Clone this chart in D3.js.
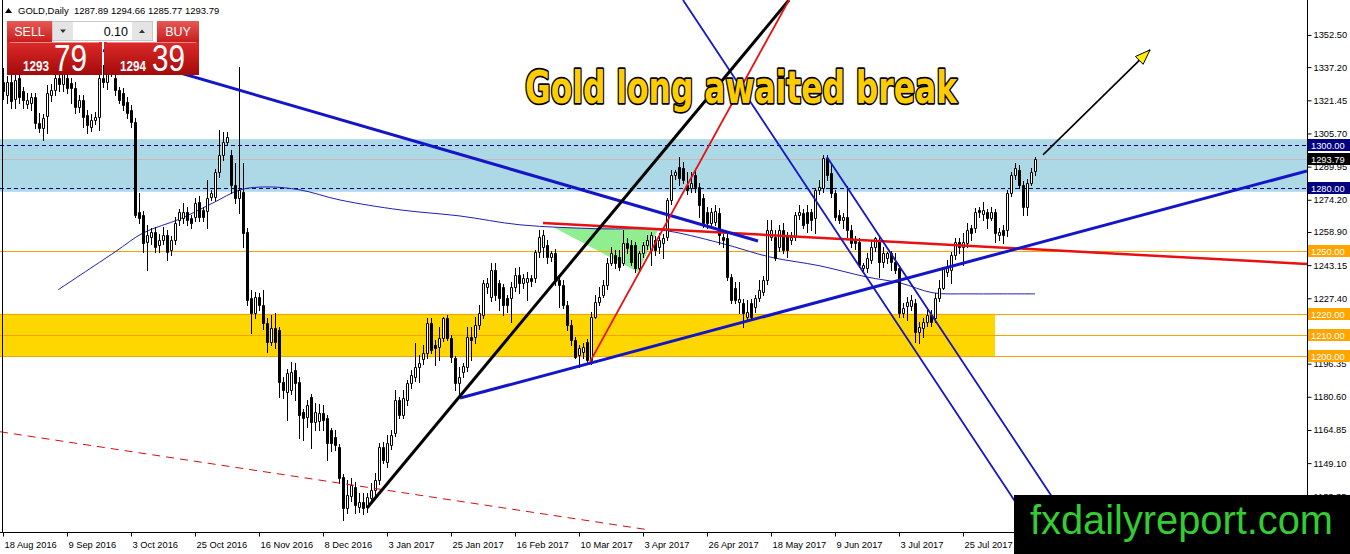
<!DOCTYPE html>
<html>
<head>
<meta charset="utf-8">
<script src="https://cdn.jsdelivr.net/npm/d3@7"></script>
<style>
  body { margin: 0; background: #fff; }
  svg { display: block; }
</style>
</head>
<body>
<div id="chart"></div>
<script>
// GOLD daily, one bar per trading day: [open, high, low, close]
var candles = [
  [1330,1337,1322,1326],[1324,1333,1320,1330],[1330,1336,1318,1321],[1322,1334,1318,1331],
  [1332,1336,1320,1323],[1326,1328,1318,1321.6],[1319.5,1325,1317.9,1321.5],[1320,1325,1317,1323],
  [1323,1325,1308.3,1310.5],[1310.5,1315.5,1306.4,1308.3],[1308.3,1315,1302.6,1313],[1314,1328.7,1306,1325],
  [1324,1329,1321,1326.4],[1326.4,1336,1324,1332],[1332,1338,1326,1329],[1329,1340,1326,1336],
  [1332,1338,1325,1327.5],[1329.7,1332,1320,1327.5],[1327.5,1330,1315.5,1318.3],[1318.3,1324,1316,1321.6],
  [1321.6,1324,1308.8,1313.5],[1314.5,1317,1306,1309.7],[1309,1315,1307,1312],[1312,1316,1310,1313.5],
  [1313.5,1336,1307.4,1332],[1332,1338,1328,1330],[1330,1342,1327,1337],[1337,1343,1333,1336],
  [1332,1336,1324,1326.4],[1326.4,1328,1320,1321.6],[1325,1327.5,1317,1319.2],[1320.7,1323,1313,1315.5],
  [1317,1319,1309,1311],[1311,1313,1266,1267],[1268.4,1277.5,1263.2,1265.6],[1267,1269,1249.4,1253.7],
  [1254.2,1262.3,1240.9,1257.5],[1256.6,1261,1253,1258.9],[1258.9,1261.3,1249.4,1251.8],[1252.8,1258,1249.4,1255.1],
  [1255.1,1261.3,1253,1257.5],[1257.5,1260,1245.6,1249.4],[1250.4,1257,1248,1255.1],[1255.1,1266,1253,1263.2],
  [1264.6,1270,1262,1268.4],[1265.6,1272.7,1263,1268.4],[1268.4,1271,1262,1264.6],[1265.6,1267,1260.8,1263.2],
  [1266.1,1275,1264,1272.7],[1273.2,1276,1264,1266.1],[1269.4,1271,1264,1266.1],[1268.9,1283.6,1260.8,1275.1],
  [1275.6,1279,1274,1277.5],[1275.6,1289,1274,1287.4],[1287.4,1307.4,1285,1295.5],[1295.5,1306.4,1293,1301.7],
  [1301.7,1306.4,1300,1304],[1295.5,1298,1277.5,1281.3],[1281.3,1291.7,1272.7,1275.1],[1275.1,1337.3,1267.9,1278.9],
  [1278,1291.7,1251.8,1258.4],[1258.9,1261,1224.3,1226.6],[1227.6,1231.4,1211,1220.5],[1220.5,1230.4,1218,1228],
  [1228,1230,1222,1224.3],[1224.3,1231.4,1213,1215.7],[1215.7,1218,1202,1206.7],[1206.7,1219.5,1205.3,1213.3],
  [1213.3,1220.5,1204,1206.7],[1212.4,1213.8,1180.5,1187.7],[1187.7,1190,1180,1183.9],[1183,1194,1169.6,1192],
  [1183.9,1197.2,1182,1192.4],[1193.4,1196.7,1179.1,1187.2],[1187.7,1190,1161.1,1172],[1173.4,1175,1160.1,1170.6],
  [1171.1,1179,1166.3,1176.8],[1180.5,1182,1156.3,1168.7],[1168.7,1177.7,1164.9,1173.4],[1169.2,1177,1165,1172.9],
  [1172.9,1176.8,1164.9,1169.6],[1170.6,1172,1150.6,1158.7],[1164.9,1166,1155,1158.7],[1161.5,1164.9,1155.4,1157.8],
  [1156.8,1158,1139.7,1142.1],[1142.6,1144,1122.1,1127.9],[1127.9,1141.1,1125.5,1134],[1133.5,1142,1131,1138.8],
  [1137.8,1140,1125.5,1129.3],[1128.4,1135,1126,1130.7],[1130.7,1135,1125,1127.9],[1128.4,1135,1126,1133],
  [1132.6,1139.7,1130,1136.4],[1136.4,1144.5,1134,1141.1],[1141.1,1158.7,1139,1156.8],[1156.8,1159,1149.2,1150.6],
  [1149.7,1162.5,1147.3,1158.7],[1157.8,1164.9,1156,1162.5],[1163.5,1183.9,1162,1179.1],[1179.1,1180.5,1170.6,1172],
  [1172,1183.9,1170.6,1180],[1179.1,1188.6,1176.8,1187.2],[1187.2,1193.4,1185,1191],[1190,1206.2,1188,1194.8],
  [1194.8,1200.5,1187.7,1196.7],[1198.6,1205.3,1196,1201.4],[1201.4,1218,1199,1215.7],[1215.7,1218,1201.4,1202.9],
  [1205.3,1207.6,1195.8,1203.8],[1204.3,1213.8,1198.1,1208.6],[1208.6,1218.5,1207,1218],[1218,1219.5,1207.6,1208.6],
  [1208.6,1210,1197.2,1199.5],[1199,1200,1183.9,1187.2],[1187.2,1194.8,1181.5,1190],[1192.4,1196.7,1190,1195.3],
  [1194.8,1213.8,1193,1209],[1209,1213.8,1198.1,1207.6],[1209,1218.5,1206.2,1214.8],[1214.8,1224.3,1213,1220.5],
  [1219.5,1236.1,1218,1234.7],[1232.8,1237,1230,1234.7],[1228,1244.2,1226,1240.9],[1240.9,1244.2,1226.6,1229],
  [1234.7,1236,1221.9,1227.6],[1232.8,1234,1219.5,1224.3],[1227.6,1229,1220.9,1224.3],[1227.6,1235,1216.2,1232.8],
  [1232.8,1241.8,1231,1238.5],[1238.5,1242.3,1229.9,1234.7],[1234.7,1239,1232.3,1237],[1235.2,1240,1226.6,1237],
  [1237,1238.5,1233,1235.7],[1237,1250.4,1235,1249.4],[1249.4,1259.9,1247,1256.6],[1251.8,1259.9,1247,1257.5],
  [1252.8,1255,1244,1247],[1247,1249.9,1245,1248.9],[1248.9,1251,1233.8,1236.1],[1236.1,1238,1223.3,1233.8],
  [1233.8,1236,1222.8,1224.3],[1224.3,1226,1212.4,1214.8],[1214.8,1217,1205.3,1207.6],[1207.6,1209,1199,1199.5],
  [1200.5,1205.3,1194.8,1203.8],[1201.9,1206,1199,1204.3],[1206.7,1208,1197.2,1198.1],[1198.1,1220.9,1196,1218.5],
  [1218.5,1229,1218,1225.7],[1225.7,1232.8,1224,1228],[1229,1236.1,1228,1233.8],[1233.8,1246.6,1232,1244.2],
  [1244.2,1251.8,1243,1248.9],[1248,1250.4,1241.8,1244.2],[1247,1250.4,1240.9,1242.3],[1244.2,1259.9,1243,1253.7],
  [1253.7,1256,1249,1251.3],[1252.8,1255,1243,1244.7],[1252.8,1254,1240,1241.8],[1241.8,1250,1240,1248.9],
  [1248.9,1254,1247,1252.8],[1252.8,1257.5,1251,1255.1],[1250.4,1259,1243.3,1257.5],[1255.1,1257,1248,1250.4],
  [1251.8,1258.4,1248.9,1255.1],[1253.7,1258,1246.6,1256.1],[1256.6,1275.1,1255,1274.1],[1274.1,1288.4,1272,1286],
  [1286,1288.4,1284,1287.4],[1289.8,1294.6,1281.3,1284.6],[1289.3,1292.2,1282,1283.6],[1281.3,1287.4,1277,1278.9],
  [1279.9,1287.4,1277.9,1282.2],[1286,1288,1278,1280.3],[1280.3,1282,1266,1271.8],[1275.1,1277,1261.3,1263.2],
  [1268.4,1270.8,1261,1263.2],[1263.2,1270.5,1261,1268.4],[1263.7,1271.8,1262,1268.9],[1268,1270.3,1253.3,1257.5],
  [1256.6,1258,1251.8,1255.1],[1256.1,1258,1236.1,1237.5],[1237.5,1239,1225.2,1226.6],[1232.3,1235.2,1225.2,1226.6],
  [1225.7,1235.2,1220.5,1227.1],[1225.2,1227,1213.8,1220.5],[1218.5,1226.6,1217.1,1220.9],[1225.2,1227,1217.1,1218.5],
  [1223.3,1229,1221,1227.6],[1227.6,1236.1,1226,1231.4],[1230.4,1238,1229,1236.1],[1236.1,1264.6,1234,1259.9],
  [1256.6,1264.6,1255,1259.9],[1256.6,1259.9,1245.6,1246.6],[1251.8,1262.3,1250,1259.9],[1259.9,1263.2,1249,1250.4],
  [1257.5,1259,1247,1250.4],[1255.1,1259,1253,1256.6],[1256.6,1268.4,1255,1267],[1267,1271.8,1265,1268.4],
  [1268,1270,1260.8,1262.3],[1268.4,1271.8,1258.9,1263.2],[1268.4,1270,1259.9,1264.6],[1265.6,1279.8,1258.4,1278.9],
  [1278.9,1283.6,1277,1280.3],[1280,1295.5,1278,1294.1],[1294.1,1295.5,1283.6,1286],[1287,1290.8,1275.6,1277.5],
  [1277.5,1279,1264.6,1266.1],[1267,1269.4,1263.2,1264.6],[1264.6,1268,1260.8,1266.1],[1266.1,1280.8,1256.6,1259.9],
  [1259.9,1262,1251.8,1253.7],[1255.1,1257,1251,1253.7],[1254.2,1256,1242.3,1243.3],[1241.8,1244.2,1239.9,1243.3],
  [1241.8,1248.9,1240,1246.6],[1245.6,1255.1,1244,1251.8],[1251.8,1256.6,1250,1256.1],[1255.1,1257,1237.5,1244.7],
  [1244.7,1251.8,1242.3,1248.9],[1246.6,1249.4,1244,1248.9],[1248.9,1250,1240.9,1244.7],[1244.7,1248.9,1239.4,1240.9],
  [1241.8,1243,1218.5,1220.5],[1220.5,1225,1218.5,1222.9],[1223.8,1228,1217.1,1225.7],[1223.8,1229,1222,1226.6],
  [1225.2,1227,1206.7,1211.4],[1211.4,1216,1206.2,1213.8],[1213.3,1218,1209,1216.2],[1216.2,1222,1214,1219.5],
  [1219.5,1222,1214,1216.2],[1218,1229.9,1216,1227.6],[1227.6,1236.1,1226,1232.3],[1232.3,1242.3,1231.9,1241.3],
  [1239.9,1245.6,1238,1242.3],[1240.9,1249.4,1234.7,1248],[1248,1256.1,1246,1254.2],[1254.2,1256,1249,1251.8],
  [1251.8,1258.4,1243.3,1254.2],[1253.7,1263.2,1252,1259.9],[1260.8,1262,1255.1,1258.4],[1260.8,1270.3,1259,1268.4],
  [1269.4,1271,1266,1268.4],[1267.5,1273.2,1264.6,1269.4],[1268.4,1270,1260.8,1265.6],[1265.6,1270.8,1264.6,1268.4],
  [1268.4,1270,1254.2,1258.4],[1257.5,1261,1255,1258.9],[1259.9,1262,1253.7,1257.5],[1259.9,1278.9,1257,1277.5],
  [1277.5,1287.4,1276,1286],[1286,1291.7,1284,1289.3],[1288.4,1290.8,1279.8,1281.3],[1281.3,1283,1267,1270.8],
  [1270.8,1284,1267,1282.2],[1282.2,1289.3,1281,1287.4],[1287.89,1294.66,1285.77,1293.79]
];

// bottom axis: [bar index, label]
var dateLabels = [
  [0,"18 Aug 2016"],[16,"9 Sep 2016"],[32,"3 Oct 2016"],[48,"25 Oct 2016"],
  [64,"16 Nov 2016"],[80,"8 Dec 2016"],[96,"3 Jan 2017"],[112,"25 Jan 2017"],
  [128,"16 Feb 2017"],[144,"10 Mar 2017"],[160,"3 Apr 2017"],[176,"26 Apr 2017"],
  [192,"18 May 2017"],[208,"9 Jun 2017"],[224,"3 Jul 2017"],[240,"25 Jul 2017"]
];

var priceTicks = [1352.50,1337.20,1321.45,1305.70,1289.95,1274.20,1258.90,1243.15,
                  1227.40,1211.65,1196.35,1180.60,1164.85,1149.10,1133.35];

// moving average: [bar index, price]
var maPoints = [
  [13.75,1231.4],[28,1249.4],[35,1258.4],[44.25,1265.1],[52.5,1272.7],[59.25,1278.9],
  [66,1280.3],[74.25,1278.9],[84.25,1274.1],[99.25,1269.4],[114.25,1266.5],[129.25,1262.3],
  [149.25,1260.4],[164.25,1259.9],[179.25,1253.7],[191.75,1247.0],[204.25,1242.8],[216,1237.5],
  [224.25,1234.7],[232.5,1230.0],[241,1229.5],[249.25,1229.5],[258,1229.5]
];

var blueZone = [1278, 1303];
var goldZone = [1200, 1220];
var goldZoneEnd = 248;
var navyLevels = [1300, 1280];
var orangeLevels = [1250, 1220, 1210, 1200];
var bidPrice = 1293.79;
var header = "GOLD,Daily  1287.89 1294.66 1285.77 1293.79";

// drawn objects, end points as [bar index, price]
var blueDownLine = [[25,1345.1],[188.75,1254.6]];
var blackUpLine  = [[91,1127.8],[196.5,1369.1]];
var redUpLine    = [[146.75,1197.2],[196.5,1369.1]];
var blueUpLine   = [[114.25,1180],[326,1287.9]];
var redFlatLine  = [[135,1263.2],[326,1243.7]];
var channelA     = [[170,1369.1],[258.25,1115.9]];
var channelB     = [[206,1294.5],[268.25,1115.9]];
var redDashLine  = [[-0.75,1164],[161.75,1117.3]];
var arrowLine    = [[260,1295.5],[286.75,1345.4]];
var greenTriangle = [[137.5,1261.3],[163.75,1259.9],[158.75,1239.9]];

var width = 1350, height = 554,
    plotRight = 1307, plotBottom = 532,
    axisFont = "'Liberation Sans', Arial, sans-serif";

var x = d3.scaleLinear().domain([-0.75, 326]).range([0, plotRight]);
var y = d3.scaleLinear().domain([1115.9, 1369.1]).range([533, 0]);

var svg = d3.select("#chart").append("svg")
    .attr("width", width).attr("height", height);
var defs = svg.append("defs");

defs.append("clipPath").attr("id", "plot")
  .append("rect").attr("x", 0).attr("y", 0).attr("width", plotRight).attr("height", plotBottom);

var plot = svg.append("g").attr("clip-path", "url(#plot)");

function px(p) { return [x(p[0]), y(p[1])]; }

// zones
plot.append("rect")
    .attr("x", 0).attr("width", plotRight)
    .attr("y", y(blueZone[1])).attr("height", y(blueZone[0]) - y(blueZone[1]))
    .attr("fill", "#add8e6");

plot.append("rect")
    .attr("x", 0).attr("width", x(goldZoneEnd))
    .attr("y", y(goldZone[1])).attr("height", y(goldZone[0]) - y(goldZone[1]))
    .attr("fill", "#ffd700");

plot.append("path")
    .attr("d", "M" + greenTriangle.map(px).join("L") + "Z")
    .attr("fill", "#90ee90");

// horizontal levels
plot.selectAll(".orange").data(orangeLevels).enter().append("line")
    .attr("x1", 0).attr("x2", plotRight)
    .attr("y1", function(d) { return Math.round(y(d)) + 0.5; })
    .attr("y2", function(d) { return Math.round(y(d)) + 0.5; })
    .attr("stroke", "#f5a300").attr("stroke-width", 1);

plot.selectAll(".navy").data(navyLevels).enter().append("line")
    .attr("x1", 0).attr("x2", plotRight)
    .attr("y1", function(d) { return Math.round(y(d)) + 0.5; })
    .attr("y2", function(d) { return Math.round(y(d)) + 0.5; })
    .attr("stroke", "#000080").attr("stroke-dasharray", "4,3");

plot.append("line")
    .attr("x1", 0).attr("x2", plotRight)
    .attr("y1", Math.round(y(bidPrice)) + 0.5).attr("y2", Math.round(y(bidPrice)) + 0.5)
    .attr("stroke", "#c8b8b8");

// moving average
plot.append("path")
    .datum(maPoints)
    .attr("d", d3.line().curve(d3.curveCatmullRom)
        .x(function(d) { return x(d[0]); })
        .y(function(d) { return y(d[1]); }))
    .attr("fill", "none").attr("stroke", "#1f1fb4").attr("stroke-width", 1);

// candles
var bars = plot.append("g").selectAll("g").data(candles).enter().append("g");

bars.append("line")
    .attr("x1", function(d, i) { return Math.round(x(i)) + 0.5; })
    .attr("x2", function(d, i) { return Math.round(x(i)) + 0.5; })
    .attr("y1", function(d) { return Math.round(y(d[1])); })
    .attr("y2", function(d) { return Math.round(y(d[2])) + 1; })
    .attr("stroke", "#000").attr("stroke-width", 1);

bars.append("path")
    .attr("d", function(d, i) {
      var cx = Math.round(x(i)),
          top = Math.round(y(Math.max(d[0], d[3]))) + 0.5,
          bot = Math.round(y(Math.min(d[0], d[3]))) + 0.5;
      return "M" + (cx - 0.5) + "," + top + "H" + (cx + 1.5) + "V" + bot + "H" + (cx - 0.5) + "Z";
    })
    .attr("fill", function(d) { return d[3] >= d[0] ? "#fff" : "#000"; })
    .attr("stroke", "#000").attr("stroke-width", 1);

// trend lines
function segment(pts, color, w, dash) {
  var l = plot.append("line")
      .attr("x1", x(pts[0][0])).attr("y1", y(pts[0][1]))
      .attr("x2", x(pts[1][0])).attr("y2", y(pts[1][1]))
      .attr("stroke", color).attr("stroke-width", w);
  if (dash) l.attr("stroke-dasharray", dash);
  return l;
}

segment(redDashLine, "#d01010", 1, "8,6");
segment(redFlatLine, "#e81010", 2.5);
segment(blueDownLine, "#1515c8", 3);
segment(blueUpLine, "#1515c8", 3);
segment(channelA, "#1515c8", 1.8);
segment(channelB, "#1515c8", 1.8);
segment(blackUpLine, "#000", 3);
segment(redUpLine, "#e81010", 1.8);

// arrow with yellow head
segment(arrowLine, "#000", 1.6);
(function() {
  var a = px(arrowLine[0]), b = px(arrowLine[1]);
  var ang = Math.atan2(b[1] - a[1], b[0] - a[0]), len = 15, half = 5.5;
  var bx = b[0] - len * Math.cos(ang), by = b[1] - len * Math.sin(ang);
  var nx = -Math.sin(ang) * half, ny = Math.cos(ang) * half;
  plot.append("path")
      .attr("d", "M" + b + "L" + [bx + nx, by + ny] + "L" + [bx - nx, by - ny] + "Z")
      .attr("fill", "#ffee00").attr("stroke", "#000").attr("stroke-width", 1);
})();

// frame and axes
svg.append("line").attr("x1", 2.5).attr("x2", 2.5).attr("y1", 0).attr("y2", plotBottom + 0.5)
    .attr("stroke", "#000");

var yAxis = svg.append("g")
    .attr("transform", "translate(" + (plotRight + 0.5) + ",0)")
    .call(d3.axisRight(y).tickValues(priceTicks).tickFormat(d3.format(".2f"))
        .tickSize(4).tickSizeOuter(0).tickPadding(2));
yAxis.select(".domain").attr("d", "M0,0V" + height);
yAxis.selectAll("text").attr("font-family", axisFont).attr("font-size", 9.3).attr("fill", "#000");

var xAxis = svg.append("g")
    .attr("transform", "translate(0," + (plotBottom + 0.5) + ")")
    .call(d3.axisBottom(x)
        .tickValues(dateLabels.map(function(d) { return d[0]; }))
        .tickFormat(function(v) { return dateLabels.find(function(d) { return d[0] === v; })[1]; })
        .tickSize(4).tickSizeOuter(0));
xAxis.select(".domain").attr("d", "M0,0H" + (plotRight + 1));
xAxis.selectAll("text")
    .attr("font-family", axisFont).attr("font-size", 9.3).attr("fill", "#000")
    .attr("text-anchor", "start").attr("x", 1).attr("y", 9);

// price tags on the right axis
function tag(price, fill) {
  var cy = Math.round(y(price));
  svg.append("rect").attr("x", plotRight + 1).attr("y", cy - 6)
      .attr("width", width - plotRight - 1).attr("height", 12).attr("fill", fill);
  svg.append("text").attr("x", plotRight + 4).attr("y", cy + 3.5)
      .attr("font-family", axisFont).attr("font-size", 9.3).attr("fill", "#fff")
      .text(price.toFixed(2));
}
navyLevels.forEach(function(p) { tag(p, "#000080"); });
orangeLevels.forEach(function(p) { tag(p, "#ffa500"); });
tag(bidPrice, "#000");

// title
svg.append("text")
    .attr("x", 741).attr("y", 103)
    .attr("text-anchor", "middle")
    .attr("font-family", "'DejaVu Sans', Verdana, sans-serif")
    .attr("font-weight", "bold").attr("font-size", 44)
    .attr("textLength", 432).attr("lengthAdjust", "spacingAndGlyphs")
    .attr("fill", "#ffcc00").attr("stroke", "#000").attr("stroke-width", 3.5)
    .attr("paint-order", "stroke").attr("stroke-linejoin", "round")
    .text("Gold long awaited break");

// header line
svg.append("path").attr("d", "M5,13L8.5,8L12,13Z").attr("fill", "#000");
svg.append("text").attr("x", 18).attr("y", 14)
    .attr("font-family", axisFont).attr("font-size", 9.5).attr("fill", "#000")
    .attr("xml:space", "preserve")
    .text(header);

// one-click trading panel
var g1 = defs.append("linearGradient").attr("id", "btn").attr("x1", 0).attr("y1", 0).attr("x2", 0).attr("y2", 1);
g1.append("stop").attr("offset", 0).attr("stop-color", "#e85a55");
g1.append("stop").attr("offset", 1).attr("stop-color", "#c81c1c");
var g2 = defs.append("linearGradient").attr("id", "big").attr("x1", 0).attr("y1", 0).attr("x2", 0).attr("y2", 1);
g2.append("stop").attr("offset", 0).attr("stop-color", "#dd2a2a");
g2.append("stop").attr("offset", 1).attr("stop-color", "#a30a0a");

var panel = svg.append("g").attr("font-family", axisFont);
panel.append("rect").attr("x", 7).attr("y", 21).attr("width", 45).attr("height", 21).attr("fill", "url(#btn)");
panel.append("rect").attr("x", 157).attr("y", 21).attr("width", 42).attr("height", 21).attr("fill", "url(#btn)");
panel.append("rect").attr("x", 52.5).attr("y", 21.5).attr("width", 100).attr("height", 19)
    .attr("fill", "#fff").attr("stroke", "#c8c8c8");
panel.append("rect").attr("x", 53).attr("y", 22).attr("width", 20).attr("height", 18).attr("fill", "#e4e4e4");
panel.append("rect").attr("x", 132).attr("y", 22).attr("width", 20).attr("height", 18).attr("fill", "#e4e4e4");
panel.append("path").attr("d", "M60,29.5H66L63,33Z").attr("fill", "#333");
panel.append("path").attr("d", "M139,33H145L142,29.5Z").attr("fill", "#333");
panel.append("text").attr("x", 29.5).attr("y", 36).attr("text-anchor", "middle")
    .attr("font-size", 12.5).attr("fill", "#fff").text("SELL");
panel.append("text").attr("x", 178).attr("y", 36).attr("text-anchor", "middle")
    .attr("font-size", 12.5).attr("fill", "#fff").text("BUY");
panel.append("text").attr("x", 128).attr("y", 36).attr("text-anchor", "end")
    .attr("font-size", 12.5).attr("fill", "#000").text("0.10");

panel.append("rect").attr("x", 7).attr("y", 42).attr("width", 95).attr("height", 33).attr("fill", "url(#big)");
panel.append("rect").attr("x", 104).attr("y", 42).attr("width", 95).attr("height", 33).attr("fill", "url(#big)");
panel.append("line").attr("x1", 10).attr("x2", 99).attr("y1", 42.5).attr("y2", 42.5).attr("stroke", "#f08a8a");
panel.append("line").attr("x1", 107).attr("x2", 196).attr("y1", 42.5).attr("y2", 42.5).attr("stroke", "#f08a8a");
panel.append("text").attr("x", 23).attr("y", 71).attr("font-size", 14).attr("font-weight", "bold")
    .attr("fill", "#fff").attr("textLength", 26).attr("lengthAdjust", "spacingAndGlyphs").text("1293");
panel.append("text").attr("x", 54).attr("y", 71).attr("font-size", 37)
    .attr("fill", "#fff").attr("textLength", 33).attr("lengthAdjust", "spacingAndGlyphs").text("79");
panel.append("text").attr("x", 120).attr("y", 71).attr("font-size", 14).attr("font-weight", "bold")
    .attr("fill", "#fff").attr("textLength", 26).attr("lengthAdjust", "spacingAndGlyphs").text("1294");
panel.append("text").attr("x", 152).attr("y", 71).attr("font-size", 37)
    .attr("fill", "#fff").attr("textLength", 33).attr("lengthAdjust", "spacingAndGlyphs").text("39");

// watermark
svg.append("rect").attr("x", 1014).attr("y", 495).attr("width", width - 1014).attr("height", height - 495)
    .attr("fill", "#000");
svg.append("text").attr("x", 1030).attr("y", 534)
    .attr("font-family", axisFont).attr("font-size", 40).attr("fill", "#33cc33")
    .attr("textLength", 303).attr("lengthAdjust", "spacingAndGlyphs")
    .text("fxdailyreport.com");
</script>
</body>
</html>
